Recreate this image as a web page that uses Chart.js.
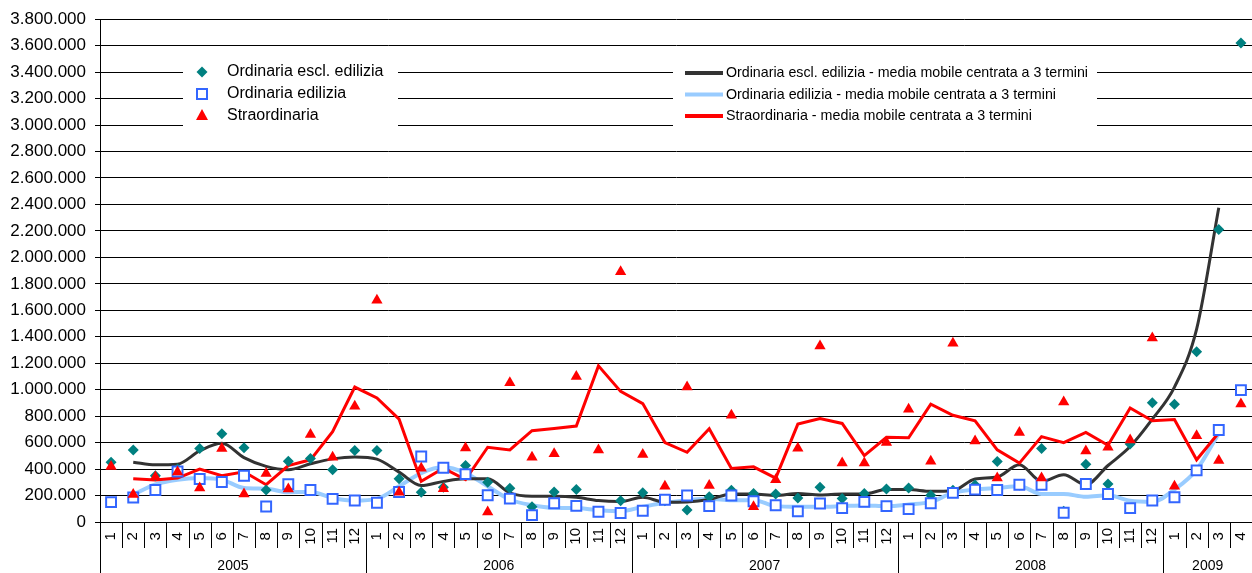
<!DOCTYPE html>
<html>
<head>
<meta charset="utf-8">
<script src="https://cdn.jsdelivr.net/npm/chart.js@4.4.1/dist/chart.umd.min.js"></script>
<style>
    body { margin: 0; background: #fff; }
    #contenitore { width: 1252px; height: 573px; overflow: hidden; }
</style>
</head>
<body>
<div id="contenitore"><canvas id="grafico" width="1252" height="573"></canvas></div>
<script>
//Categorie: anni e mesi per anno
const anni = ['2005', '2006', '2007', '2008', '2009'];
const mesiPerAnno = [12, 12, 12, 12, 4];

//Tick asse y
const yMin = 0;
const yMax = 3800000;
const yPasso = 200000;

//Valori mensili (migliaia)
const ordinariaEscl = [
    452, 545, 350, 400, 555, 667, 562, 242, 460, 480, 395, 540,
    540, 327, 225, 262, 427, 300, 255, 115, 227, 245, 80, 160,
    221, 160, 90, 190, 240, 215, 212, 182, 262, 177, 215, 250,
    257, 203, 240, 280, 458, 280, 555, 82, 437, 287, 590, 902,
    890, 1287, 2210, 3620
];
const ordinariaEdil = [
    150, 185, 242, 382, 325, 302, 350, 117, 285, 242, 175, 162,
    145, 227, 495, 410, 362, 202, 177, 52, 142, 122, 78, 68,
    85, 168, 200, 120, 200, 157, 127, 80, 140, 105, 152, 120,
    97, 142, 220, 245, 242, 282, 282, 70, 287, 212, 105, 162,
    187, 390, 695, 997
];
const straordinaria = [
    420, 207, 340, 377, 257, 555, 212, 367, 250, 662, 490, 875,
    1675, 225, 407, 252, 560, 75, 1052, 490, 515, 1100, 545, 1892,
    510, 270, 1020, 275, 807, 115, 320, 557, 1330, 445, 445, 600,
    852, 460, 1350, 612, 332, 677, 332, 907, 537, 565, 620, 1390,
    270, 652, 465, 892
];

//Medie mobili centrate a 3 termini (migliaia)
const mmOrdinariaEscl = [
    null, 452, 432, 437, 537, 595, 487, 420, 395, 440, 477, 492,
    475, 377, 275, 307, 327, 327, 220, 195, 195, 187, 162, 155,
    187, 150, 152, 170, 212, 212, 200, 215, 205, 212, 212, 245,
    245, 232, 237, 325, 340, 432, 307, 357, 282, 427, 570, 777,
    1020, 1457, 2375, null
];
const mmOrdinariaEdil = [
    null, 207, 285, 320, 332, 320, 257, 252, 225, 227, 182, 162,
    175, 270, 370, 415, 370, 270, 170, 127, 107, 105, 90, 82,
    115, 145, 165, 175, 165, 165, 120, 115, 115, 120, 125, 120,
    132, 152, 220, 245, 257, 270, 212, 212, 190, 202, 160, 152,
    245, 395, 670, null
];
const mmStraordinaria = [
    null, 327, 317, 332, 400, 350, 380, 282, 427, 470, 682, 1020,
    937, 777, 307, 407, 320, 565, 545, 690, 707, 725, 1180, 987,
    895, 600, 527, 705, 405, 417, 332, 740, 782, 745, 502, 640,
    637, 890, 807, 765, 545, 445, 645, 600, 677, 580, 862, 765,
    775, 470, 675, null
];

//Colori
const coloreTeal = '#008080';
const coloreBlu = '#3366FF';
const coloreRosso = '#FF0000';
const coloreNero = '#333333';
const coloreAzzurro = '#99CCFF';

const fontBase = "'Liberation Sans', Arial, sans-serif";

//Etichette dei mesi ("1".."12" per ogni anno)
const etichette = [];
mesiPerAnno.forEach(n => {
    for (let m = 1; m <= n; m++) etichette.push(String(m));
});

const migliaia = arr => arr.map(v => v == null ? null : v * 1000);

const formatoIt = v => String(v).replace(/\B(?=(\d{3})+(?!\d))/g, '.');

const Legende = {
    punti: [
        { testo: 'Ordinaria escl. edilizia', stile: 'rombo', colore: coloreTeal },
        { testo: 'Ordinaria edilizia', stile: 'quadrato', colore: coloreBlu },
        { testo: 'Straordinaria', stile: 'triangolo', colore: coloreRosso }
    ],
    linee: [
        { testo: 'Ordinaria escl. edilizia - media mobile centrata a 3 termini', colore: coloreNero },
        { testo: 'Ordinaria edilizia - media mobile centrata a 3 termini', colore: coloreAzzurro },
        { testo: 'Straordinaria - media mobile centrata a 3 termini', colore: coloreRosso }
    ]
};

/**
 * Disegna un simbolo della legenda
 */
const disegnaSimbolo = (ctx, stile, colore, x, y) => {
    ctx.save();
    ctx.beginPath();
    if (stile == 'rombo') {
        ctx.moveTo(x, y - 5.5); ctx.lineTo(x + 5.5, y); ctx.lineTo(x, y + 5.5); ctx.lineTo(x - 5.5, y);
        ctx.closePath();
        ctx.fillStyle = colore; ctx.fill();
    } else if (stile == 'quadrato') {
        ctx.rect(x - 5, y - 5, 10, 10);
        ctx.fillStyle = '#fff'; ctx.fill();
        ctx.lineWidth = 2; ctx.strokeStyle = colore; ctx.stroke();
    } else {
        ctx.moveTo(x, y - 7); ctx.lineTo(x + 6, y + 4); ctx.lineTo(x - 6, y + 4);
        ctx.closePath();
        ctx.fillStyle = colore; ctx.fill();
    }
    ctx.restore();
};

//Plugin per separatori delle categorie, anni e legende
const pluginDecorazioni = {
    id: 'decorazioni',
    afterDraw: (chart) => {
        const ctx = chart.ctx;
        const area = chart.chartArea;
        const sx = chart.scales.x;
        const n = etichette.length;
        const passo = sx.getPixelForValue(1) - sx.getPixelForValue(0);
        const bordo = i => Math.round(sx.getPixelForValue(0) - passo / 2 + i * passo) + 0.5;

        ctx.save();
        ctx.strokeStyle = '#000';
        ctx.lineWidth = 1;

        //separatori dei mesi
        for (let i = 0; i <= n; i++) {
            ctx.beginPath();
            ctx.moveTo(bordo(i), area.bottom);
            ctx.lineTo(bordo(i), area.bottom + 26);
            ctx.stroke();
        }

        //separatori e etichette degli anni
        let inizio = 0;
        ctx.font = '14px ' + fontBase;
        ctx.fillStyle = '#000';
        ctx.textAlign = 'center';
        ctx.textBaseline = 'middle';
        anni.forEach((anno, k) => {
            const fine = inizio + mesiPerAnno[k];
            ctx.beginPath();
            ctx.moveTo(bordo(inizio), area.bottom);
            ctx.lineTo(bordo(inizio), chart.height);
            ctx.stroke();
            const centro = (sx.getPixelForValue(inizio) + sx.getPixelForValue(fine - 1)) / 2;
            ctx.fillText(anno, centro, area.bottom + 44);
            inizio = fine;
        });

        //legenda simboli
        ctx.fillStyle = '#fff';
        ctx.fillRect(183, 57, 215, 76);
        ctx.font = '16px ' + fontBase;
        ctx.textAlign = 'left';
        Legende.punti.forEach((item, k) => {
            const y = 72 + k * 22;
            disegnaSimbolo(ctx, item.stile, item.colore, 202, y);
            ctx.fillStyle = '#000';
            ctx.fillText(item.testo, 227, y);
        });

        //legenda medie mobili
        ctx.fillStyle = '#fff';
        ctx.fillRect(673, 57, 424, 76);
        ctx.font = '15px ' + fontBase;
        const larghezze = [362, 330, 306];
        Legende.linee.forEach((item, k) => {
            const y = 73 + k * 21.5;
            ctx.beginPath();
            ctx.moveTo(685, y);
            ctx.lineTo(723, y);
            ctx.lineWidth = 4;
            ctx.strokeStyle = item.colore;
            ctx.stroke();
            ctx.fillStyle = '#000';
            ctx.fillText(item.testo, 726, y, larghezze[k]);
        });
        ctx.restore();
    }
};

const config = {
    type: 'line',
    data: {
        labels: etichette,
        datasets: [
            {
                label: 'Straordinaria',
                data: migliaia(straordinaria),
                showLine: false,
                pointStyle: 'triangle',
                pointRadius: 6.5,
                pointBorderWidth: 0,
                pointBackgroundColor: coloreRosso,
                pointBorderColor: coloreRosso,
                order: 1
            },
            {
                label: 'Ordinaria edilizia',
                data: migliaia(ordinariaEdil),
                showLine: false,
                pointStyle: 'rect',
                pointRadius: 7,
                pointBorderWidth: 2,
                pointBackgroundColor: '#fff',
                pointBorderColor: coloreBlu,
                order: 2
            },
            {
                label: 'Ordinaria escl. edilizia',
                data: migliaia(ordinariaEscl),
                showLine: false,
                pointStyle: 'rectRot',
                pointRadius: 5.5,
                pointBorderWidth: 0,
                pointBackgroundColor: coloreTeal,
                pointBorderColor: coloreTeal,
                order: 3
            },
            {
                label: 'Straordinaria - media mobile centrata a 3 termini',
                data: migliaia(mmStraordinaria),
                borderColor: coloreRosso,
                borderWidth: 3,
                pointRadius: 0,
                tension: 0,
                order: 4
            },
            {
                label: 'Ordinaria escl. edilizia - media mobile centrata a 3 termini',
                data: migliaia(mmOrdinariaEscl),
                borderColor: coloreNero,
                borderWidth: 3,
                pointRadius: 0,
                cubicInterpolationMode: 'monotone',
                order: 5
            },
            {
                label: 'Ordinaria edilizia - media mobile centrata a 3 termini',
                data: migliaia(mmOrdinariaEdil),
                borderColor: coloreAzzurro,
                borderWidth: 4,
                pointRadius: 0,
                cubicInterpolationMode: 'monotone',
                order: 6
            }
        ]
    },
    options: {
        responsive: false,
        animation: false,
        events: [],
        layout: { autoPadding: false, padding: { top: 18, right: -2, left: 0, bottom: 0 } },
        plugins: {
            legend: { display: false },
            tooltip: { enabled: false }
        },
        scales: {
            x: {
                offset: true,
                grid: { display: true, drawOnChartArea: false, drawTicks: false, offset: true, color: '#000' },
                border: { color: '#000', width: 1 },
                ticks: {
                    minRotation: 90,
                    maxRotation: 90,
                    autoSkip: false,
                    padding: 6,
                    color: '#000',
                    font: { family: fontBase, size: 15 },
                    callback: function (val, idx) {
                        const t = this.getLabelForValue(val);
                        return t.length == 1 ? t + ' ' : t;
                    }
                },
                afterFit: (scale) => {
                    scale.height = 51;
                    scale.paddingLeft = 0;
                    scale.paddingRight = 0;
                }
            },
            y: {
                min: yMin,
                max: yMax,
                ticks: {
                    stepSize: yPasso,
                    padding: 9,
                    color: '#000',
                    font: { family: fontBase, size: 17 },
                    callback: (v) => formatoIt(v)
                },
                grid: { color: '#000', lineWidth: 1, tickLength: 5 },
                border: { color: '#000', width: 1 },
                afterFit: (scale) => { scale.width = 100; }
            }
        }
    },
    plugins: [pluginDecorazioni]
};

new Chart(document.getElementById('grafico'), config);
</script>
</body>
</html>
